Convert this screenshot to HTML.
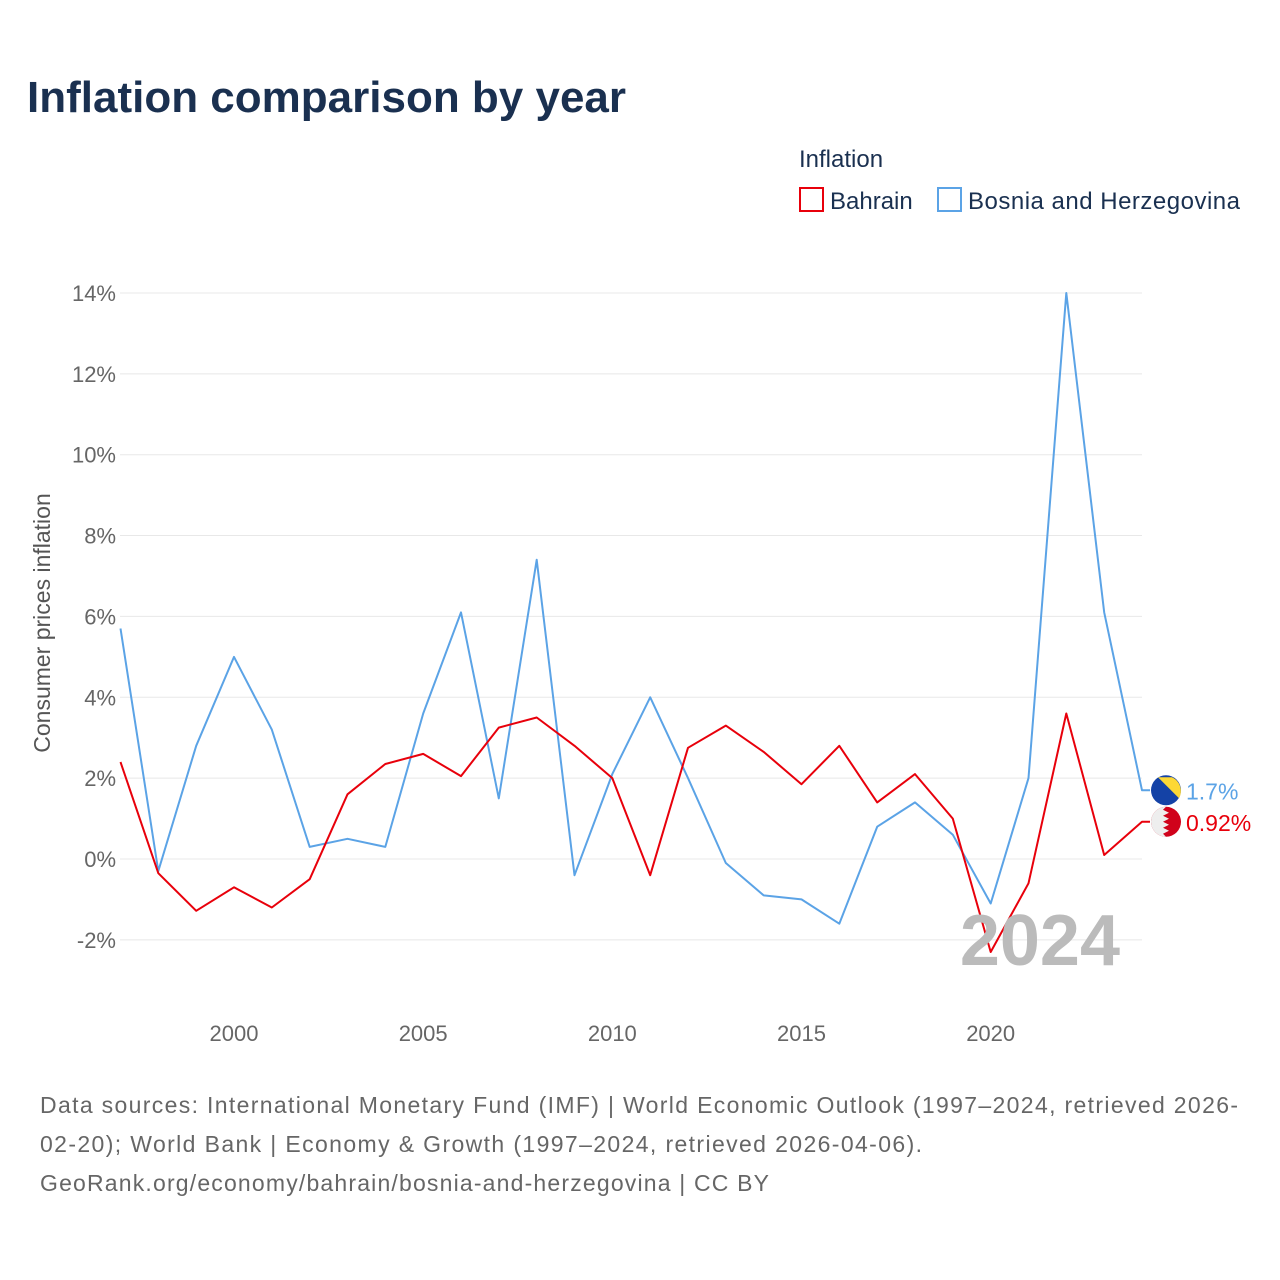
<!DOCTYPE html>
<html><head><meta charset="utf-8"><style>
body{margin:0;background:#fff;font-family:"Liberation Sans",sans-serif}
#wrap{position:relative;width:1280px;height:1280px;overflow:hidden}
</style></head><body>
<div id="wrap">
<svg id="chart" width="1280" height="1280">
<text x="27" y="112" font-size="44" font-weight="bold" fill="#1a3050">Inflation comparison by year</text>
<text x="799" y="167" font-size="24" fill="#1a3050">Inflation</text>
<g><rect x="800" y="188" width="23" height="23" fill="#fff" stroke="#e8000b" stroke-width="2"/><text x="830" y="209" font-size="24" fill="#1a3050">Bahrain</text></g>
<g><rect x="938" y="188" width="23" height="23" fill="#fff" stroke="#5ba3e6" stroke-width="2"/><text x="968" y="209" font-size="24" fill="#1a3050" textLength="272">Bosnia and Herzegovina</text></g>
<text transform="translate(50,623) rotate(-90)" text-anchor="middle" font-size="23" fill="#555">Consumer prices inflation</text>
<g id="grid"></g><g id="lines"></g>
<text x="1120" y="965" text-anchor="end" font-size="72" font-weight="bold" fill="#bbb">2024</text>
<g id="ends"></g>
<text font-size="23" fill="#666"><tspan x="40" y="1113" textLength="1198">Data sources: International Monetary Fund (IMF) | World Economic Outlook (1997–2024, retrieved 2026-</tspan><tspan x="40" y="1152" textLength="882">02-20); World Bank | Economy &amp; Growth (1997–2024, retrieved 2026-04-06).</tspan><tspan x="40" y="1191" textLength="729">GeoRank.org/economy/bahrain/bosnia-and-herzegovina | CC BY</tspan></text>
</svg></div>
<script>
const years=[1997,1998,1999,2000,2001,2002,2003,2004,2005,2006,2007,2008,2009,2010,2011,2012,2013,2014,2015,2016,2017,2018,2019,2020,2021,2022,2023,2024];
const bahrain=[2.4,-0.35,-1.28,-0.7,-1.2,-0.5,1.6,2.35,2.6,2.05,3.25,3.5,2.8,2.0,-0.4,2.75,3.3,2.65,1.85,2.8,1.4,2.1,1.0,-2.3,-0.6,3.6,0.1,0.92];
const bosnia=[5.7,-0.3,2.8,5.0,3.2,0.3,0.5,0.3,3.6,6.1,1.5,7.4,-0.4,2.1,4.0,2.0,-0.1,-0.9,-1.0,-1.6,0.8,1.4,0.6,-1.1,2.0,14.0,6.1,1.7];
const yTicks=[-2,0,2,4,6,8,10,12,14];
const xTicks=[2000,2005,2010,2015,2020];
const endLabels=["0.92%","1.7%"];
const NS="http://www.w3.org/2000/svg";
const X=v=>120.5+(v-1997)*(1142-120.5)/27;
const Y=v=>859-v*40.43;
function mk(tag,attrs,parent){const e=document.createElementNS(NS,tag);for(const k in attrs)e.setAttribute(k,attrs[k]);parent.appendChild(e);return e;}
const grid=document.getElementById('grid'),lines=document.getElementById('lines'),ends=document.getElementById('ends');
yTicks.forEach(t=>{
 const l=mk('line',{x1:120,x2:1142,y1:Y(t),y2:Y(t),stroke:'#e8e8e8'},grid);
 
 
 const tx=mk('text',{x:116,y:Y(t)+8,'text-anchor':'end','font-size':22,fill:'#666'},grid);
 tx.textContent=t+'%';
 
 
});
xTicks.forEach(t=>{
 const tx=mk('text',{x:X(t),y:1041,'text-anchor':'middle','font-size':22,fill:'#666'},grid);
 tx.textContent=t;
 
 
});
function series(vals,color,name){
 const d=vals.map((v,i)=>(i?'L':'M')+X(years[i]).toFixed(1)+','+Y(v).toFixed(1)).join('')+'H'+(X(2024)+8);
 const p=mk('path',{d:d,fill:'none',stroke:color,'stroke-width':2,'stroke-linejoin':'round'},lines);
 
 
}
series(bosnia,'#5ba3e6','line-bosnia');
series(bahrain,'#e8000b','line-bahrain');
function endMark(v,color,label,name,flag){
 const y=Y(v),cx=1166;
 const g=mk('g',{},ends);
 
 
 if(flag==='ba'){
  mk('circle',{cx:cx,cy:y,r:15,fill:'#1442a6'},g);
  mk('path',{d:`M${cx-8},${y-13} L${cx+13},${y+8} A15,15 0 0 0 ${cx+6},${y-13} Z`,fill:'#fdd835'},g);
 }else{
  mk('circle',{cx:cx,cy:y,r:15,fill:'#d0021b'},g);
  mk('path',{d:`M${cx},${y-15} A15,15 0 0 0 ${cx},${y+15} L${cx-3},${y+12} L${cx+3},${y+9} L${cx-3},${y+6} L${cx+3},${y+3} L${cx-3},${y} L${cx+3},${y-3} L${cx-3},${y-6} L${cx+3},${y-9} L${cx-3},${y-12} Z`,fill:'#eee'},g);
 }
 const t=mk('text',{x:1186,y:y+9,'font-size':23,fill:color},g);
 t.textContent=label;
}
endMark(bosnia[bosnia.length-1],'#5ba3e6',endLabels[1],'end-label-bosnia','ba');
endMark(bahrain[bahrain.length-1],'#e8000b',endLabels[0],'end-label-bahrain','bh');
</script>
</body></html>
